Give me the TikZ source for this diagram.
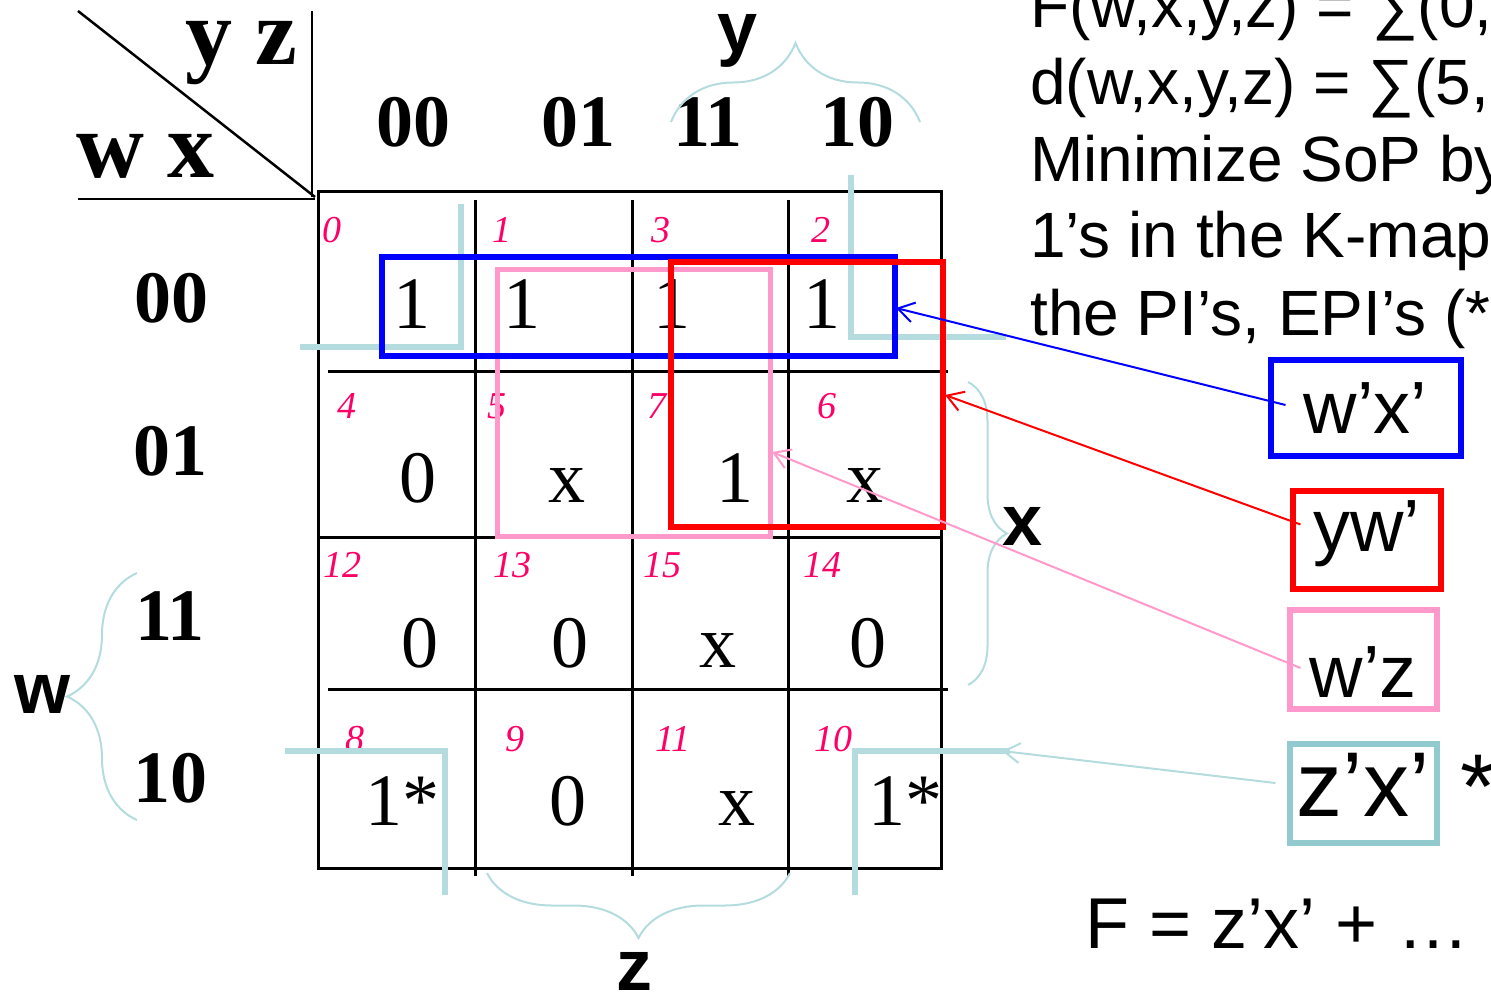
\documentclass[tikz,border=0pt]{standalone}
\usepackage{fontspec}
\setmainfont{Liberation Serif}
\setsansfont{Liberation Sans}
\usepackage{xcolor}
\usepackage{tikz}
\usetikzlibrary{arrows.meta,decorations.pathreplacing}
\definecolor{GroupBlue}{HTML}{0000FF}
\definecolor{GroupRed}{HTML}{FF0000}
\definecolor{GroupPink}{HTML}{FF99CC}
\definecolor{CornerTeal}{HTML}{B4DCDE}
\definecolor{BoxTeal}{HTML}{93CAD0}
\definecolor{IndexPink}{HTML}{FF0066}

\begin{document}
\begin{tikzpicture}[x=1pt,y=1pt,>={Straight Barb[length=16pt,width=20pt]},
    idx/.style={font=\fontsize{38}{42}\selectfont\itshape,text=IndexPink,inner sep=0pt,anchor=base},
    val/.style={font=\fontsize{74}{80}\selectfont,inner sep=0pt,anchor=base},
    hdr/.style={font=\fontsize{74}{80}\selectfont\bfseries,inner sep=0pt,anchor=base},
    vars/.style={font=\fontsize{94}{100}\selectfont\bfseries,inner sep=0pt,anchor=base west},
    side/.style={font=\fontsize{72}{80}\selectfont\sffamily\bfseries,inner sep=0pt,anchor=base},
    task/.style={font=\fontsize{64}{77}\selectfont\sffamily,inner sep=0pt,anchor=base west},
    term/.style={draw,line width=6pt,inner sep=0pt,font=\fontsize{74}{80}\selectfont\sffamily},
    gbrace/.style={draw=CornerTeal,line width=2pt,decorate,decoration={brace,amplitude=#1}},
    corner/.style={draw=CornerTeal,line width=6pt},
    grid/.style={line width=3pt}]
    \useasboundingbox (0,0) rectangle (1491,-995);
    \clip (0,0) rectangle (1491,-995);

    % Corner of the map with the variable names.
    \draw[line width=2.5pt] (78,-11) -- (315,-197);
    \draw[line width=2.5pt] (312,-11) -- (312,-197);
    \draw[line width=2.5pt] (78,-199) -- (315,-199);
    \node[vars] (hyz) at (185,-65) {y z};
    \node[vars] (hwx) at (76,-178) {w x};

    % Column and row headers.
    \node[hdr] (col00) at (413,-147) {00};
    \node[hdr] (col01) at (578,-147) {01};
    \node[hdr] (col11) at (708,-147) {11};
    \node[hdr] (col10) at (857,-147) {10};
    \node[hdr] (row00) at (171,-322) {00};
    \node[hdr] (row01) at (170,-475) {01};
    \node[hdr] (row11) at (170,-640) {11};
    \node[hdr] (row10) at (170,-802) {10};

    % Grid.
    \draw[grid] (318,-192) rectangle (941,-868);
    \draw[grid] (475,-200) -- (475,-876);
    \draw[grid] (632,-200) -- (632,-876);
    \draw[grid] (788,-200) -- (788,-876);
    \draw[grid] (328,-371) -- (948,-371);
    \draw[grid] (318,-537) -- (941,-537);
    \draw[grid] (328,-689) -- (948,-689);

    % Minterm numbers.
    \node[idx] (i0) at (332,-242) {0};
    \node[idx] (i1) at (502,-242) {1};
    \node[idx] (i3) at (661,-242) {3};
    \node[idx] (i2) at (821,-242) {2};
    \node[idx] (i4) at (347,-418) {4};
    \node[idx] (i5) at (497,-418) {5};
    \node[idx] (i7) at (657,-418) {7};
    \node[idx] (i6) at (827,-418) {6};
    \node[idx] (i12) at (342,-577) {12};
    \node[idx] (i13) at (512,-577) {13};
    \node[idx] (i15) at (662,-577) {15};
    \node[idx] (i14) at (822,-577) {14};
    \node[idx] (i8) at (355,-751) {8};
    \node[idx] (i9) at (515,-751) {9};
    \node[idx] (i11) at (673,-751) {11};
    \node[idx] (i10) at (833,-751) {10};

    % Cell values.
    \node[val] (c0) at (412,-328) {1};
    \node[val] (c1) at (522,-328) {1};
    \node[val] (c3) at (672,-328) {1};
    \node[val] (c2) at (822,-328) {1};
    \node[val] (c4) at (418,-502) {0};
    \node[val] (c5) at (567,-502) {x};
    \node[val] (c7) at (735,-502) {1};
    \node[val] (c6) at (865,-502) {x};
    \node[val] (c12) at (420,-667) {0};
    \node[val] (c13) at (570,-667) {0};
    \node[val] (c15) at (718,-667) {x};
    \node[val] (c14) at (868,-667) {0};
    \node[val] (c8) at (402,-825) {1*};
    \node[val] (c9) at (568,-825) {0};
    \node[val] (c11) at (737,-825) {x};
    \node[val] (c10) at (905,-825) {1*};

    % Corners of the z'x' group.
    \draw[corner] (300,-347) -- (461,-347) -- (461,-204);
    \draw[corner] (851,-175) -- (851,-337) -- (1006,-337);
    \draw[corner] (285,-751) -- (445,-751) -- (445,-895);
    \draw[corner] (855,-895) -- (855,-751) -- (1010,-751);

    % Groups.
    \draw[GroupPink,line width=5pt] (497,-269) rectangle (770,-536);
    \draw[GroupBlue,line width=6pt] (382,-257) rectangle (895,-356);
    \draw[GroupRed,line width=6pt] (671,-262) rectangle (943,-527);

    % Braces.
    \draw[gbrace=79pt] (671,-122) -- (920,-122);
    \draw[gbrace=39pt] (968,-382) -- (968,-685);
    \draw[gbrace=70pt] (137,-820) -- (137,-573);
    \draw[gbrace=65pt] (790,-873) -- (487,-873);
    \node[side] (vy) at (738,-53) {y};
    \node[side] (vx) at (1023,-545) {x};
    \node[side] (vw) at (43,-713) {w};
    \node[side] (vz) at (634,-990) {z};

    % Task text.
    \node[task] (l1) at (1030,-28) {F(w,x,y,z) = ∑(0,};
    \node[task] (l2) at (1030,-105) {d(w,x,y,z) = ∑(5,};
    \node[task] (l3) at (1030,-182) {Minimize SoP by};
    \node[task] (l4) at (1030,-258) {1’s in the K-map};
    \node[task] (l5) at (1030,-335) {the PI’s, EPI’s (*};

    % Terms.
    \node[term,draw=GroupBlue,minimum width=190pt,minimum height=96pt] (tWX) at (1365.5,-408) {w’x’};
    \node[term,draw=GroupRed,minimum width=148pt,minimum height=98pt,text depth=26pt] (tYW) at (1366.5,-539.5) {yw’};
    \node[term,draw=GroupPink,minimum width=147pt,minimum height=99pt,text height=76pt,text depth=0pt] (tWZ) at (1363,-659) {w’z};
    \node[term,draw=BoxTeal,minimum width=147pt,minimum height=99pt,font=\fontsize{92}{100}\selectfont\sffamily,text depth=16pt] (tZX) at (1363,-793) {z’x’};
    \node[font=\fontsize{92}{100}\selectfont\sffamily,inner sep=0pt,anchor=base west] (star) at (1460,-818) {*};
    \node[font=\fontsize{72}{80}\selectfont\sffamily,inner sep=0pt,anchor=base west] (result) at (1085,-948) {F = z’x’ + …};

    % Pointers to the groups.
    \coordinate (tipWX) at (896,-308);
    \coordinate (tipYW) at (945,-395);
    \coordinate (tipWZ) at (772,-452);
    \coordinate (tipZX) at (1002,-751);
    \draw[->,GroupBlue,line width=2pt] ([shift={(18pt,3pt)}]tWX.west) -- (tipWX);
    \draw[->,GroupRed,line width=2pt] ([shift={(11pt,15pt)}]tYW.west) -- (tipYW);
    \draw[->,GroupPink,line width=2pt] ([shift={(14pt,-9pt)}]tWZ.west) -- (tipWZ);
    \draw[->,CornerTeal,line width=2pt] ([shift={(-11pt,10pt)}]tZX.west) -- (tipZX);
\end{tikzpicture}
\end{document}
